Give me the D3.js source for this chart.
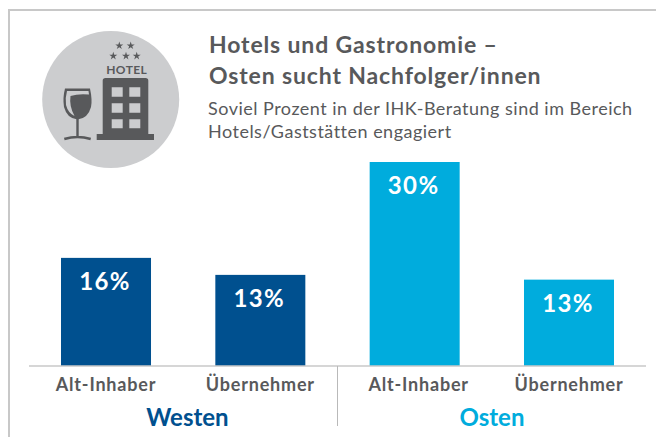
<!DOCTYPE html>
<html>
<head>
<meta charset="utf-8">
<script src="https://cdn.jsdelivr.net/npm/d3@7"></script>
<style>
  html, body { margin: 0; padding: 0; background: #fff; }
  svg { display: block; }
  text { font-family: Lato, 'Open Sans', sans-serif; }
</style>
</head>
<body>
<div id="chart-area"></div>
<script>
const regions = ['Westen', 'Osten'];
const categories = ['Alt-Inhaber', 'Übernehmer', 'Alt-Inhaber', 'Übernehmer'];
const barRegions = ['Westen', 'Westen', 'Osten', 'Osten'];
const values = [15.9, 13.4, 30, 12.7];
const valueLabels = ['16%', '13%', '30%', '13%'];
const titleLines = ['Hotels und Gastronomie –', 'Osten sucht Nachfolger/innen'];
const subtitleLines = ['Soviel Prozent in der IHK-Beratung sind im Bereich', 'Hotels/Gaststätten engagiert'];
const regionColors = ['#00508f', '#00acdd'];

const width = 656;
const height = 437;
const textGrey = '#58595b';
const baseline = 366;

const chart = d3.select('#chart-area').append('svg')
  .attr('width', width)
  .attr('height', height);

// frame, open on the right
chart.append('path')
  .attr('d', `M9,${height} V10 H${width}`)
  .attr('fill', 'none')
  .attr('stroke', '#c8c8c8')
  .attr('stroke-width', 2);

// scales
const xScale = d3.scaleBand()
  .domain(d3.range(values.length))
  .range([61, 614])
  .paddingInner(0.4168)
  .paddingOuter(0);
const yScale = d3.scaleLinear().domain([0, 30]).range([baseline, 162]);
const colorScale = d3.scaleOrdinal().domain(regions).range(regionColors);

// icon
const icon = chart.append('g').attr('id', 'icon');
icon.append('circle').attr('cx', 110.7).attr('cy', 99.5).attr('r', 68.5).attr('fill', '#cccdcf');
icon.append('path')
  .attr('fill', textGrey)
  .attr('fill-rule', 'evenodd')
  .attr('d', 'M96.7,140 H154 V134 H148.3 V80.5 Q148.3,78 145.5,78 H105.5 Q102.7,78 102.7,80.5 V134 H96.7 Z'
    + 'M111.7,87.3 H122.7 V96.7 H111.7 Z M129.3,87.3 H140.3 V96.7 H129.3 Z'
    + 'M111.7,103.3 H122.7 V112.7 H111.7 Z M129.3,103.3 H140.3 V112.7 H129.3 Z'
    + 'M111.7,119.3 H122.7 V128.3 H111.7 Z M129.3,119.3 H140.3 V128.3 H129.3 Z');
// wine glass
icon.append('path')
  .attr('fill', textGrey)
  .attr('d', 'M65,88.5 H90 Q92.5,100 91,107 Q88,118.5 77.5,119.5 Q67,118.5 64,107 Q62.5,98 65,88.5 Z');
icon.append('path')
  .attr('fill', '#cccdcf')
  .attr('d', 'M67,91 H88.5 L89,94.5 Q78,93.5 70.5,96 Q69,106 74.5,116 Q68,113 66,105 Q65,98 67,91 Z');
icon.append('path')
  .attr('fill', 'none')
  .attr('stroke', textGrey)
  .attr('stroke-width', 2.4)
  .attr('d', 'M77.5,119 V138 M64.3,139 Q77.5,135 90.7,139');
// stars
const starX = [119.3, 130.7, 113.3, 126, 136.7];
const starY = [45.7, 45.7, 56, 56, 56];
icon.selectAll('.star')
  .data(starX)
  .enter()
  .append('path')
  .attr('class', 'star')
  .attr('d', d3.symbol(d3.symbolStar, 20))
  .attr('transform', (d, i) => `translate(${d}, ${starY[i]})`)
  .attr('fill', textGrey);
icon.append('text')
  .attr('x', 126.7).attr('y', 74)
  .attr('text-anchor', 'middle')
  .attr('fill', textGrey)
  .style('font-size', '12px')
  .style('font-weight', 700)
  .style('letter-spacing', '0.4px')
  .text('HOTEL');

// title
chart.selectAll('.title')
  .data(titleLines)
  .enter()
  .append('text')
  .attr('class', 'title')
  .attr('x', 209)
  .attr('y', (d, i) => 53 + i * 31)
  .attr('fill', textGrey)
  .style('font-size', '23px')
  .style('font-weight', 700)
  .style('letter-spacing', '0.86px')
  .text((d) => d);

chart.selectAll('.subtitle')
  .data(subtitleLines)
  .enter()
  .append('text')
  .attr('class', 'subtitle')
  .attr('x', 208)
  .attr('y', (d, i) => 115 + i * 23)
  .attr('fill', textGrey)
  .style('font-size', '18px')
  .style('letter-spacing', '0.49px')
  .text((d) => d);

// bars
chart.append('g')
  .selectAll('rect')
  .data(values)
  .enter()
  .append('rect')
  .attr('x', (d, i) => xScale(i))
  .attr('y', (d) => yScale(d))
  .attr('width', xScale.bandwidth())
  .attr('height', (d) => yScale(0) - yScale(d))
  .attr('fill', (d, i) => colorScale(barRegions[i]));

// value labels
chart.append('g')
  .selectAll('text')
  .data(values)
  .enter()
  .append('text')
  .attr('x', (d, i) => xScale(i) + xScale.bandwidth() / 2 - 1)
  .attr('y', (d) => yScale(d) + 32)
  .attr('text-anchor', 'middle')
  .attr('fill', '#fff')
  .style('font-size', '24px')
  .style('font-weight', 700)
  .style('letter-spacing', '1.4px')
  .text((d, i) => valueLabels[i]);

// baseline + separator
chart.append('line')
  .attr('x1', 29).attr('x2', 646)
  .attr('y1', baseline).attr('y2', baseline)
  .attr('stroke', '#c8c8c8').attr('stroke-width', 1.5);
chart.append('line')
  .attr('x1', 337.5).attr('x2', 337.5)
  .attr('y1', baseline).attr('y2', 426)
  .attr('stroke', '#b9b9b9').attr('stroke-width', 1);

// category labels, the third one sits a bit right of its bar in the original
chart.append('g')
  .selectAll('text')
  .data(categories)
  .enter()
  .append('text')
  .attr('x', (d, i) => xScale(i) + xScale.bandwidth() / 2 + (i === 2 ? 4 : 0))
  .attr('y', 391)
  .attr('text-anchor', 'middle')
  .attr('fill', textGrey)
  .style('font-size', '18px')
  .style('font-weight', 700)
  .style('letter-spacing', '0.8px')
  .text((d) => d);

// region labels
chart.append('g')
  .selectAll('text')
  .data(regions)
  .enter()
  .append('text')
  .attr('x', (d, i) => (i === 0 ? 187.5 : 492))
  .attr('y', 426)
  .attr('text-anchor', 'middle')
  .attr('fill', (d) => colorScale(d))
  .style('font-size', '24px')
  .style('font-weight', 700)
  .text((d) => d);
</script>
</body>
</html>
